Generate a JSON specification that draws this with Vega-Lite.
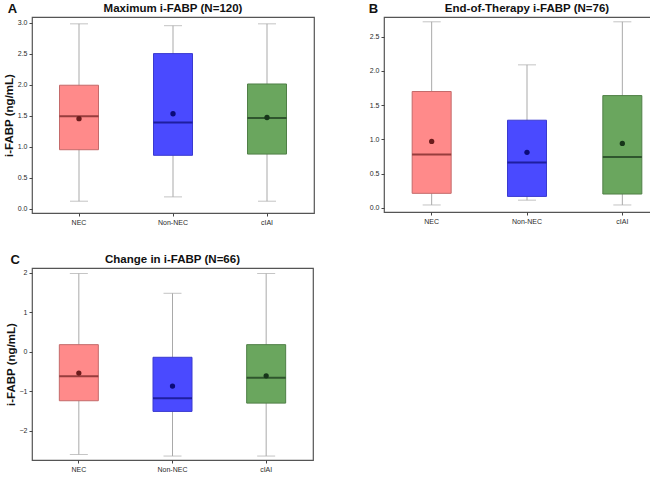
{
  "$schema": "https://vega.github.io/schema/vega-lite/v6.json",
  "background": "white",
  "padding": {"left": 2, "top": 1, "right": 2, "bottom": 1},
  "config": {
    "font": "Liberation Sans",
    "view": {"stroke": "#555555", "strokeWidth": 1.2},
    "axis": {
      "grid": false,
      "domain": false,
      "labelFont": "Liberation Sans",
      "labelFontSize": 7,
      "labelColor": "#2a2a2a",
      "labelOverlap": false,
      "tickColor": "#444444",
      "tickSize": 3,
      "labelPadding": 2,
      "titleFont": "Liberation Sans",
      "titleFontSize": 11.5,
      "titleFontWeight": "bold",
      "titleColor": "#111111",
      "titlePadding": 3
    },
    "title": {
      "font": "Liberation Sans",
      "fontSize": 11.5,
      "fontWeight": "bold",
      "color": "#111111",
      "offset": 3
    }
  },
  "datasets": {
    "stats": [
      {"panel": "A", "group": "NEC", "lo": 0.12, "q1": 0.95, "med": 1.49, "q3": 1.99, "hi": 2.98, "mean": 1.45},
      {"panel": "A", "group": "Non-NEC", "lo": 0.19, "q1": 0.86, "med": 1.39, "q3": 2.5, "hi": 2.95, "mean": 1.53},
      {"panel": "A", "group": "cIAI", "lo": 0.12, "q1": 0.88, "med": 1.46, "q3": 2.01, "hi": 2.98, "mean": 1.47},
      {"panel": "B", "group": "NEC", "lo": 0.04, "q1": 0.21, "med": 0.78, "q3": 1.7, "hi": 2.72, "mean": 0.97},
      {"panel": "B", "group": "Non-NEC", "lo": 0.11, "q1": 0.165, "med": 0.66, "q3": 1.28, "hi": 2.09, "mean": 0.81},
      {"panel": "B", "group": "cIAI", "lo": 0.04, "q1": 0.2, "med": 0.74, "q3": 1.64, "hi": 2.72, "mean": 0.94},
      {"panel": "C", "group": "NEC", "lo": -2.6, "q1": -1.24, "med": -0.62, "q3": 0.18, "hi": 1.98, "mean": -0.54},
      {"panel": "C", "group": "Non-NEC", "lo": -2.64, "q1": -1.51, "med": -1.18, "q3": -0.14, "hi": 1.48, "mean": -0.87},
      {"panel": "C", "group": "cIAI", "lo": -2.64, "q1": -1.3, "med": -0.66, "q3": 0.18, "hi": 1.98, "mean": -0.61}
    ]
  },
  "spacing": 26,
  "vconcat": [
    {
      "spacing": 53,
      "hconcat": [
        {
          "title": {"text": "A", "anchor": "start", "fontSize": 13, "offset": -14, "dx": 5},
          "vconcat": [
            {
              "width": 282,
              "height": 196,
              "title": {"text": "Maximum i-FABP (N=120)"},
              "data": {"name": "stats"},
              "transform": [{"filter": "datum.panel === 'A'"}],
              "encoding": {
                "x": {"field": "group", "type": "nominal", "sort": ["NEC", "Non-NEC", "cIAI"], "scale": {"paddingInner": 0, "paddingOuter": 0}, "axis": {"title": null, "labelAngle": 0}}
              },
              "layer": [
                {"mark": {"type": "rule", "color": "#a9a9a9", "strokeWidth": 1}, "encoding": {"y": {"field": "lo", "type": "quantitative", "scale": {"domain": [-0.07, 3.09], "nice": false, "zero": false}, "axis": {"title": "i-FABP (ng/mL)", "values": [0, 0.5, 1, 1.5, 2, 2.5, 3], "format": ".1f"}}, "y2": {"field": "hi"}}},
                {"mark": {"type": "tick", "color": "#a9a9a9", "size": 18, "thickness": 1}, "encoding": {"y": {"field": "lo", "type": "quantitative", "axis": {"title": "i-FABP (ng/mL)", "values": [0, 0.5, 1, 1.5, 2, 2.5, 3], "format": ".1f"}}}},
                {"mark": {"type": "tick", "color": "#a9a9a9", "size": 18, "thickness": 1}, "encoding": {"y": {"field": "hi", "type": "quantitative", "axis": {"title": "i-FABP (ng/mL)", "values": [0, 0.5, 1, 1.5, 2, 2.5, 3], "format": ".1f"}}}},
                {"mark": {"type": "bar", "size": 39, "strokeWidth": 1}, "encoding": {"y": {"field": "q1", "type": "quantitative", "axis": {"title": "i-FABP (ng/mL)", "values": [0, 0.5, 1, 1.5, 2, 2.5, 3], "format": ".1f"}}, "y2": {"field": "q3"}, "fill": {"field": "group", "type": "nominal", "scale": {"domain": ["NEC", "Non-NEC", "cIAI"], "range": ["#ff8a8a", "#4a4aff", "#6aa65e"]}, "legend": null}, "stroke": {"field": "group", "type": "nominal", "scale": {"domain": ["NEC", "Non-NEC", "cIAI"], "range": ["#c46a6a", "#3a3ad0", "#4f7f46"]}, "legend": null}}},
                {"mark": {"type": "tick", "size": 39, "thickness": 2}, "encoding": {"y": {"field": "med", "type": "quantitative", "axis": {"title": "i-FABP (ng/mL)", "values": [0, 0.5, 1, 1.5, 2, 2.5, 3], "format": ".1f"}}, "color": {"field": "group", "type": "nominal", "scale": {"domain": ["NEC", "Non-NEC", "cIAI"], "range": ["#6b1c1c", "#0b0b78", "#17351a"]}, "legend": null}}},
                {"mark": {"type": "point", "filled": true, "size": 28, "opacity": 1}, "encoding": {"y": {"field": "mean", "type": "quantitative", "axis": {"title": "i-FABP (ng/mL)", "values": [0, 0.5, 1, 1.5, 2, 2.5, 3], "format": ".1f"}}, "color": {"field": "group", "type": "nominal", "scale": {"domain": ["NEC", "Non-NEC", "cIAI"], "range": ["#6b1c1c", "#0b0b78", "#17351a"]}, "legend": null}}}
              ]
            }
          ]
        },
        {
          "title": {"text": "B", "anchor": "start", "fontSize": 13, "offset": -14, "dx": 0},
          "vconcat": [
            {
              "width": 286,
              "height": 195,
              "title": {"text": "End-of-Therapy i-FABP (N=76)"},
              "data": {"name": "stats"},
              "transform": [{"filter": "datum.panel === 'B'"}],
              "encoding": {
                "x": {"field": "group", "type": "nominal", "sort": ["NEC", "Non-NEC", "cIAI"], "scale": {"paddingInner": 0, "paddingOuter": 0}, "axis": {"title": null, "labelAngle": 0}}
              },
              "layer": [
                {"mark": {"type": "rule", "color": "#a9a9a9", "strokeWidth": 1}, "encoding": {"y": {"field": "lo", "type": "quantitative", "scale": {"domain": [-0.063, 2.79], "nice": false, "zero": false}, "axis": {"title": null, "values": [0, 0.5, 1, 1.5, 2, 2.5], "format": ".1f"}}, "y2": {"field": "hi"}}},
                {"mark": {"type": "tick", "color": "#a9a9a9", "size": 18, "thickness": 1}, "encoding": {"y": {"field": "lo", "type": "quantitative", "axis": {"title": null, "values": [0, 0.5, 1, 1.5, 2, 2.5], "format": ".1f"}}}},
                {"mark": {"type": "tick", "color": "#a9a9a9", "size": 18, "thickness": 1}, "encoding": {"y": {"field": "hi", "type": "quantitative", "axis": {"title": null, "values": [0, 0.5, 1, 1.5, 2, 2.5], "format": ".1f"}}}},
                {"mark": {"type": "bar", "size": 39, "strokeWidth": 1}, "encoding": {"y": {"field": "q1", "type": "quantitative", "axis": {"title": null, "values": [0, 0.5, 1, 1.5, 2, 2.5], "format": ".1f"}}, "y2": {"field": "q3"}, "fill": {"field": "group", "type": "nominal", "scale": {"domain": ["NEC", "Non-NEC", "cIAI"], "range": ["#ff8a8a", "#4a4aff", "#6aa65e"]}, "legend": null}, "stroke": {"field": "group", "type": "nominal", "scale": {"domain": ["NEC", "Non-NEC", "cIAI"], "range": ["#c46a6a", "#3a3ad0", "#4f7f46"]}, "legend": null}}},
                {"mark": {"type": "tick", "size": 39, "thickness": 2}, "encoding": {"y": {"field": "med", "type": "quantitative", "axis": {"title": null, "values": [0, 0.5, 1, 1.5, 2, 2.5], "format": ".1f"}}, "color": {"field": "group", "type": "nominal", "scale": {"domain": ["NEC", "Non-NEC", "cIAI"], "range": ["#6b1c1c", "#0b0b78", "#17351a"]}, "legend": null}}},
                {"mark": {"type": "point", "filled": true, "size": 28, "opacity": 1}, "encoding": {"y": {"field": "mean", "type": "quantitative", "axis": {"title": null, "values": [0, 0.5, 1, 1.5, 2, 2.5], "format": ".1f"}}, "color": {"field": "group", "type": "nominal", "scale": {"domain": ["NEC", "Non-NEC", "cIAI"], "range": ["#6b1c1c", "#0b0b78", "#17351a"]}, "legend": null}}}
              ]
            }
          ]
        }
      ]
    },
    {
      "hconcat": [
        {
          "title": {"text": "C", "anchor": "start", "fontSize": 13, "offset": -14, "dx": 6},
          "vconcat": [
            {
              "width": 281,
              "height": 192,
              "title": {"text": "Change in i-FABP (N=66)"},
              "data": {"name": "stats"},
              "transform": [{"filter": "datum.panel === 'C'"}],
              "encoding": {
                "x": {"field": "group", "type": "nominal", "sort": ["NEC", "Non-NEC", "cIAI"], "scale": {"paddingInner": 0, "paddingOuter": 0}, "axis": {"title": null, "labelAngle": 0}}
              },
              "layer": [
                {"mark": {"type": "rule", "color": "#a9a9a9", "strokeWidth": 1}, "encoding": {"y": {"field": "lo", "type": "quantitative", "scale": {"domain": [-2.74, 2.12], "nice": false, "zero": false}, "axis": {"title": "i-FABP (ng/mL)", "values": [-2, -1, 0, 1, 2], "format": "d"}}, "y2": {"field": "hi"}}},
                {"mark": {"type": "tick", "color": "#a9a9a9", "size": 18, "thickness": 1}, "encoding": {"y": {"field": "lo", "type": "quantitative", "axis": {"title": "i-FABP (ng/mL)", "values": [-2, -1, 0, 1, 2], "format": "d"}}}},
                {"mark": {"type": "tick", "color": "#a9a9a9", "size": 18, "thickness": 1}, "encoding": {"y": {"field": "hi", "type": "quantitative", "axis": {"title": "i-FABP (ng/mL)", "values": [-2, -1, 0, 1, 2], "format": "d"}}}},
                {"mark": {"type": "bar", "size": 39, "strokeWidth": 1}, "encoding": {"y": {"field": "q1", "type": "quantitative", "axis": {"title": "i-FABP (ng/mL)", "values": [-2, -1, 0, 1, 2], "format": "d"}}, "y2": {"field": "q3"}, "fill": {"field": "group", "type": "nominal", "scale": {"domain": ["NEC", "Non-NEC", "cIAI"], "range": ["#ff8a8a", "#4a4aff", "#6aa65e"]}, "legend": null}, "stroke": {"field": "group", "type": "nominal", "scale": {"domain": ["NEC", "Non-NEC", "cIAI"], "range": ["#c46a6a", "#3a3ad0", "#4f7f46"]}, "legend": null}}},
                {"mark": {"type": "tick", "size": 39, "thickness": 2}, "encoding": {"y": {"field": "med", "type": "quantitative", "axis": {"title": "i-FABP (ng/mL)", "values": [-2, -1, 0, 1, 2], "format": "d"}}, "color": {"field": "group", "type": "nominal", "scale": {"domain": ["NEC", "Non-NEC", "cIAI"], "range": ["#6b1c1c", "#0b0b78", "#17351a"]}, "legend": null}}},
                {"mark": {"type": "point", "filled": true, "size": 28, "opacity": 1}, "encoding": {"y": {"field": "mean", "type": "quantitative", "axis": {"title": "i-FABP (ng/mL)", "values": [-2, -1, 0, 1, 2], "format": "d"}}, "color": {"field": "group", "type": "nominal", "scale": {"domain": ["NEC", "Non-NEC", "cIAI"], "range": ["#6b1c1c", "#0b0b78", "#17351a"]}, "legend": null}}}
              ]
            }
          ]
        }
      ]
    }
  ]
}
